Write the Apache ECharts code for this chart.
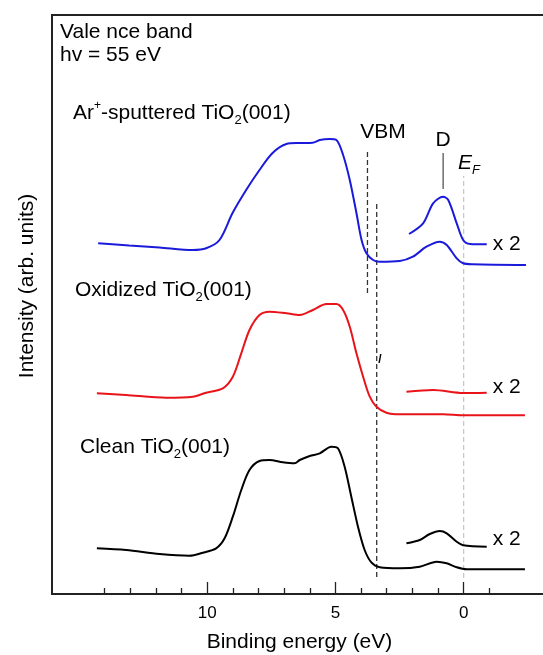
<!DOCTYPE html>
<html>
<head>
<meta charset="utf-8">
<script src="https://cdn.jsdelivr.net/npm/echarts@6/dist/echarts.min.js"></script>
<style>
  html, body { margin: 0; padding: 0; background: #fff; }
  #chart { width: 543px; height: 655px; }
</style>
</head>
<body>
<div id="chart"></div>
<script>
// binding energy (eV) / intensity (arb. units)
const sputteredE = [14.25, 13.04, 11.86, 10.56, 10.04, 9.52, 9.01, 8.48, 7.96, 7.45, 6.91, 6.39, 5.89, 5.61, 5.22, 4.96, 4.70, 4.44, 4.18, 3.98, 3.79, 3.53, 3.27, 2.49, 1.98, 1.45, 0.93, 0.66, 0.27, 0.02, -0.36, -2.43]
const sputteredI = [350.7, 348.5, 346.5, 344, 345.7, 354, 381, 404, 424, 441, 450, 451, 451.3, 454, 455, 454, 439, 414, 381, 354, 340.7, 334, 332.3, 333, 337.3, 347.3, 352.3, 349, 335.7, 330.7, 329.7, 329]
const sputteredX2E = [2.13, 1.58, 1.19, 0.80, 0.60, 0.27, 0.02, -0.25, -0.90]
const sputteredX2I = [360, 370.7, 390.7, 397.3, 394, 370.7, 354, 350, 349.7]

const oxidizedE = [14.30, 13.16, 11.60, 10.56, 10.04, 9.39, 9.00, 8.67, 8.35, 7.96, 7.57, 6.91, 6.39, 5.88, 5.35, 4.96, 4.70, 4.44, 4.18, 3.92, 3.66, 3.40, 3.01, 2.49, 0.80, 0.02, -2.39]
const oxidizedI = [200.7, 199, 196.3, 197.3, 201.3, 205.7, 217.3, 240.7, 264, 279, 282.3, 280.7, 279, 284, 290, 290, 284, 267.3, 240.7, 217.3, 197.3, 187.3, 181.3, 179.7, 179.7, 178.7, 178.7]
const oxidizedX2E = [2.23, 1.19, 0.02, -0.90]
const oxidizedX2I = [202.3, 204, 201, 201.3]

const cleanE = [14.30, 13.16, 11.86, 10.69, 10.17, 9.65, 9.32, 9.00, 8.67, 8.35, 7.96, 7.57, 7.05, 6.59, 6.39, 6.00, 5.61, 5.16, 4.90, 4.64, 4.38, 4.12, 3.86, 3.59, 3.27, 2.49, 1.71, 1.05, 0.66, 0.27, -0.12, -2.39]
const cleanI = [45.7, 44, 40, 38.3, 41.3, 45.7, 55.7, 77.3, 104, 124, 133, 134, 131.7, 130.7, 134, 138, 140.7, 147.3, 145.7, 127.3, 97.3, 67.3, 44, 31.3, 26.7, 25.7, 27.3, 32.3, 30.7, 26.7, 24.7, 24.7]
const cleanX2E = [2.23, 1.71, 1.32, 0.93, 0.66, 0.27, 0.02, -0.90]
const cleanX2I = [50.7, 54, 60, 63, 60.7, 52.3, 48.7, 47.3]

// marker lines: [energy, from, to]
const vbm1 = [3.75, 301, 445]
const vbm2 = [3.39, 17, 391]
const fermi = [0, 16, 418]
const dLine = [0.80, 405, 441]

const majorTicks = [10, 5, 0]
const minorTicks = [14, 13, 12, 11, 9, 8, 7, 6, 4, 3, 2, 1, -1]

const FONT = 'Liberation Sans, Arial, sans-serif'

function zip(xs, ys) {
  return xs.map((x, i) => [x, ys[i]])
}

function curve(e, i, color) {
  return {
    type: 'line',
    data: zip(e, i),
    symbol: 'none',
    smooth: 0.3,
    lineStyle: { color: color, width: 2 },
    silent: true
  }
}

// zoomed (x 2) segment, label sits right of its last point
function x2curve(e, i, color, dy) {
  let s = curve(e, i, color)
  s.markPoint = {
    symbol: 'circle',
    symbolSize: 0,
    silent: true,
    data: [{
      coord: [e[e.length - 1], i[i.length - 1]],
      label: {
        show: true, position: 'right', distance: 6, offset: [0, dy],
        formatter: 'x 2', color: '#000', fontFamily: FONT, fontSize: 21
      }
    }]
  }
  return s
}

function vline(m, color, type) {
  return {
    type: 'line',
    data: [[m[0], m[1]], [m[0], m[2]]],
    symbol: 'none',
    lineStyle: { color: color, width: 1.3, type: type },
    silent: true
  }
}

const rich = {
  n: { fontSize: 21, fontFamily: FONT, color: '#000' },
  s: { fontSize: 13, fontFamily: FONT, color: '#000', padding: [14, 0, 0, 0] },
  u: { fontSize: 12, fontFamily: FONT, color: '#000', padding: [0, 0, 14, 0] },
  e: { fontSize: 21, fontFamily: FONT, fontStyle: 'italic', color: '#000' },
  f: { fontSize: 13, fontFamily: FONT, fontStyle: 'italic', color: '#000', padding: [14, 0, 0, 0] }
}

function label(x, y, text, align) {
  return {
    type: 'text',
    x: x,
    y: y,
    style: { text: text, rich: rich, align: align || 'left', verticalAlign: 'middle' }
  }
}

const chart = echarts.init(document.getElementById('chart'))

const option = {
  animation: false,
  backgroundColor: '#fff',
  grid: {
    left: 52, top: 15, right: -4, bottom: 61,
    outerBoundsMode: 'none',
    containLabel: false,
    show: true, borderColor: '#222', borderWidth: 2, backgroundColor: 'transparent'
  },
  xAxis: [
    {
      type: 'value', inverse: true, min: -3.25, max: 16.05,
      name: 'Binding energy (eV)', nameLocation: 'middle', nameGap: 38,
      nameTextStyle: { fontFamily: FONT, fontSize: 21, color: '#000' },
      axisLine: { show: true, lineStyle: { color: '#222', width: 2 } },
      axisTick: { show: true, inside: true, length: 12, customValues: majorTicks, lineStyle: { color: '#222', width: 1.3 } },
      axisLabel: { customValues: majorTicks, fontFamily: FONT, fontSize: 17, color: '#000', margin: 11 },
      splitLine: { show: false }
    },
    {
      type: 'value', inverse: true, min: -3.25, max: 16.05, position: 'bottom',
      axisLine: { show: false },
      axisTick: { show: true, inside: true, length: 6, customValues: minorTicks, lineStyle: { color: '#222', width: 1.3 } },
      axisLabel: { show: false },
      splitLine: { show: false }
    }
  ],
  yAxis: {
    type: 'value', min: 0, max: 579,
    axisLine: { show: false }, axisTick: { show: false },
    axisLabel: { show: false }, splitLine: { show: false }
  },
  series: [
    vline(vbm1, '#333', [5, 3]),
    vline(vbm2, '#333', [5, 3]),
    vline(fermi, '#c8c8c8', [5, 3]),
    vline(dLine, '#555', 'solid'),
    curve(sputteredE, sputteredI, '#1a1adb'),
    x2curve(sputteredX2E, sputteredX2I, '#1a1adb', 0),
    curve(oxidizedE, oxidizedI, '#e8141a'),
    x2curve(oxidizedX2E, oxidizedX2I, '#e8141a', -5),
    curve(cleanE, cleanI, '#000'),
    x2curve(cleanX2E, cleanX2I, '#000', -7)
  ],
  graphic: [
    label(60, 32, '{n|Vale nce band}'),
    label(60, 55, '{n|hv = 55 eV}'),
    label(73, 113, '{n|Ar}{u|+}{n|-sputtered TiO}{s|2}{n|(001)}'),
    label(75, 290, '{n|Oxidized TiO}{s|2}{n|(001)}'),
    label(80, 447, '{n|Clean TiO}{s|2}{n|(001)}'),
    label(383, 132, '{n|VBM}', 'center'),
    label(443, 140, '{n|D}', 'center'),
    label(458, 163, '{e|E}{f|F}'),
    {
      type: 'text', x: 380, y: 360,
      style: { text: '/', fontFamily: FONT, fontSize: 12, fontWeight: 'bold', fill: '#000', align: 'center', verticalAlign: 'middle' }
    },
    {
      type: 'text', x: 27, y: 286, rotation: Math.PI / 2,
      style: { text: 'Intensity (arb. units)', fontFamily: FONT, fontSize: 21, fill: '#000', align: 'center', verticalAlign: 'middle' }
    }
  ]
}

chart.setOption(option)
</script>
</body>
</html>
